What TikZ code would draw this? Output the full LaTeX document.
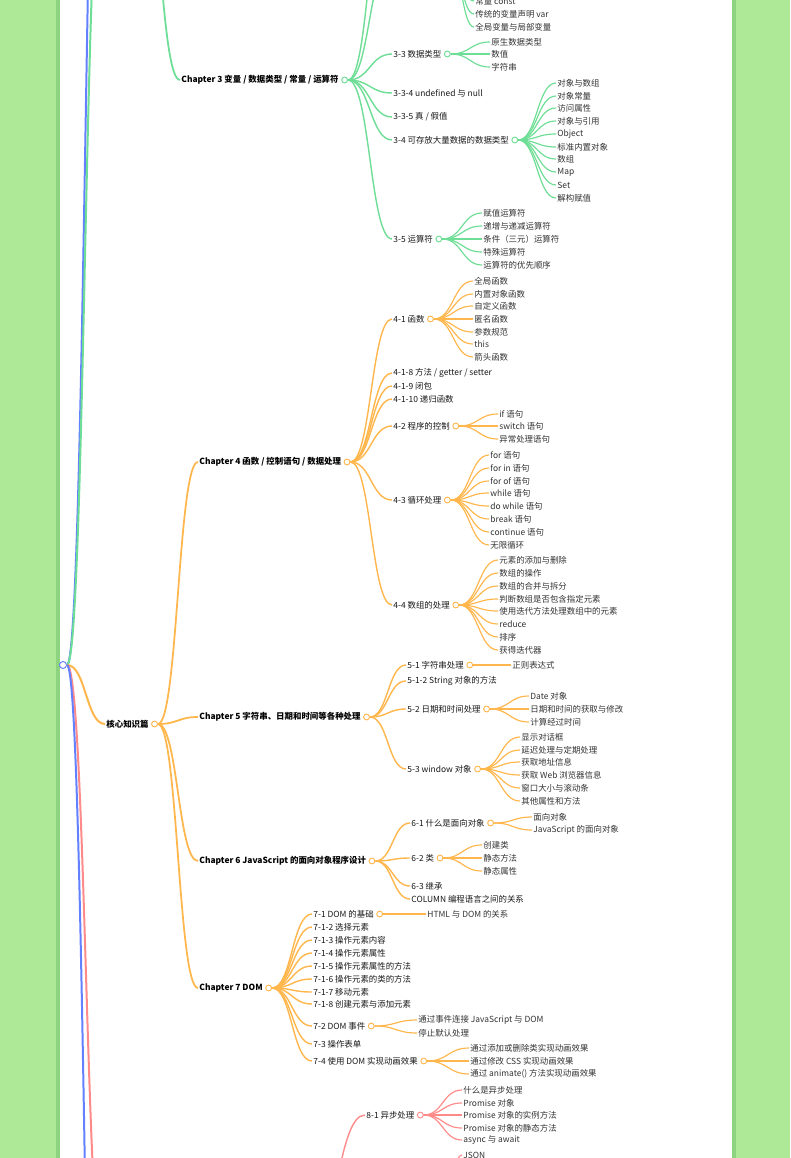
\documentclass[tikz,border=0pt]{standalone}
\usepackage{fontspec}
\setmainfont{Noto Sans CJK SC}
\usetikzlibrary{positioning,calc}

\definecolor{bggreen}{RGB}{174,233,151}
\definecolor{edgegreen}{RGB}{142,212,128}
\definecolor{mmgreen}{RGB}{110,222,150}
\definecolor{mmorange}{RGB}{255,183,77}
\definecolor{mmred}{RGB}{255,138,138}
\definecolor{mmblue}{RGB}{98,128,255}

\tikzset{
  leaf/.style={anchor=west, inner sep=1pt, text=black!80, font=\fontsize{7.2}{8}\selectfont},
  sub/.style={leaf, text=black!90},
  chap/.style={anchor=west, inner sep=1pt, text=black, font=\fontsize{7.2}{8}\selectfont\bfseries},
  knob/.style={circle, draw=#1, fill=white, line width=0.8pt, minimum size=5pt, inner sep=0pt},
  branch/.style={to path={let \p1=(\tikztostart), \p2=(\tikztotarget) in
      .. controls ({(\x1+\x2)/2},\y1) and ({(\x1+\x2)/2},\y2) .. (\tikztotarget)}},
  leafline/.style={line width=1pt, #1},
  subline/.style={line width=1.2pt, #1},
  chapline/.style={line width=1.5pt, #1},
  rootline/.style={line width=1.7pt, #1},
}

\begin{document}
\begin{tikzpicture}[x=0.03cm,y=-0.03cm]
\useasboundingbox (0,0) rectangle (790,1158);
\clip (0,0) rectangle (790,1158);
\fill[bggreen] (0,0) rectangle (790,1158);
\fill[edgegreen] (56,0) rectangle (60,1158);
\fill[edgegreen] (732,0) rectangle (736,1158);
\fill[white] (60,0) rectangle (732,1158);

% root and the parts that lie outside the picture
\node[knob=mmblue, minimum size=6pt] (root) at (63,665) {};
\coordinate (intro) at (105,-460);
\coordinate (basic) at (103,-150);
\coordinate (kbasic) at (140,-150);
\coordinate (apply) at (105,1284);
\coordinate (extra) at (105,1803);
\node[chap] (core) at (105,724) {核心知识篇};
\node[knob=mmorange, right=1pt of core] (kcore) {};
\draw[rootline=mmblue] (root.east) to[branch] (intro);
\draw[rootline=mmgreen] (root.east) to[branch] (basic);
\draw[rootline=mmorange] (root.east) to[branch] (core.west);
\draw[rootline=mmred] (root.east) to[branch] (apply);
\draw[rootline=mmblue] (root.east) to[branch] (extra);

% Chapter 3
\node[chap] (ch3) at (180,80) {Chapter 3 变量 / 数据类型 / 常量 / 运算符};
\node[knob=mmgreen, right=1pt of ch3] (k3) {};
\coordinate (s31) at (391,-130);
\coordinate (s32) at (391,-40);
\coordinate (k32) at (449,-40);
\node[sub] (s33) at (392,54) {3-3 数据类型};
\node[knob=mmgreen, right=1pt of s33] (k33) {};
\node[sub] (s334) at (392,93) {3-3-4 undefined 与 null};
\node[sub] (s335) at (392,117) {3-3-5 真 / 假值};
\node[sub] (s34) at (392,140) {3-4 可存放大量数据的数据类型};
\node[knob=mmgreen, right=1pt of s34] (k34) {};
\node[sub] (s35) at (392,239) {3-5 运算符};
\node[knob=mmgreen, right=1pt of s35] (k35) {};
\draw[chapline=mmgreen] (kbasic) to[branch] (ch3.west);
\foreach \s in {s31,s32,s33.west,s334.west,s335.west,s34.west,s35.west}
  \draw[subline=mmgreen] (k3.east) to[branch] (\s);
\foreach \yy/\txt [count=\i] in {1/常量 const, 14/传统的变量声明 var, 27/全局变量与局部变量}{
  \node[leaf] (l32-\i) at (474,\yy) {\txt};
  \draw[leafline=mmgreen] (k32) to[branch] (l32-\i.west);
}
\foreach \yy/\txt [count=\i] in {42/原生数据类型, 54/数值, 67/字符串}{
  \node[leaf] (l33-\i) at (490,\yy) {\txt};
  \draw[leafline=mmgreen] (k33.east) to[branch] (l33-\i.west);
}
\foreach \yy/\txt [count=\i] in {83/对象与数组, 96/对象常量, 108/访问属性, 121/对象与引用,
    134/Object, 147/标准内置对象, 159/数组, 172/Map, 185/Set, 198/解构赋值}{
  \node[leaf] (l34-\i) at (556,\yy) {\txt};
  \draw[leafline=mmgreen] (k34.east) to[branch] (l34-\i.west);
}
\foreach \yy/\txt [count=\i] in {213/赋值运算符, 226/递增与递减运算符, 239/条件（三元）运算符,
    252/特殊运算符, 265/运算符的优先顺序}{
  \node[leaf] (l35-\i) at (482,\yy) {\txt};
  \draw[leafline=mmgreen] (k35.east) to[branch] (l35-\i.west);
}

% Chapter 4
\node[chap] (ch4) at (198,462) {Chapter 4 函数 / 控制语句 / 数据处理};
\node[knob=mmorange, right=1pt of ch4] (k4) {};
\node[sub] (s41) at (392,319) {4-1 函数};
\node[knob=mmorange, right=1pt of s41] (k41) {};
\node[sub] (s418) at (392,373) {4-1-8 方法 / getter / setter};
\node[sub] (s419) at (392,386) {4-1-9 闭包};
\node[sub] (s4110) at (392,399) {4-1-10 递归函数};
\node[sub] (s42) at (392,426) {4-2 程序的控制};
\node[knob=mmorange, right=1pt of s42] (k42) {};
\node[sub] (s43) at (392,500) {4-3 循环处理};
\node[knob=mmorange, right=1pt of s43] (k43) {};
\node[sub] (s44) at (392,605) {4-4 数组的处理};
\node[knob=mmorange, right=1pt of s44] (k44) {};
\foreach \s in {s41,s418,s419,s4110,s42,s43,s44}
  \draw[subline=mmorange] (k4.east) to[branch] (\s.west);
\foreach \yy/\txt [count=\i] in {281/全局函数, 294/内置对象函数, 306/自定义函数, 319/匿名函数,
    332/参数规范, 344/this, 357/箭头函数}{
  \node[leaf] (l41-\i) at (473,\yy) {\txt};
  \draw[leafline=mmorange] (k41.east) to[branch] (l41-\i.west);
}
\foreach \yy/\txt [count=\i] in {414/if 语句, 426/switch 语句, 439/异常处理语句}{
  \node[leaf] (l42-\i) at (498,\yy) {\txt};
  \draw[leafline=mmorange] (k42.east) to[branch] (l42-\i.west);
}
\foreach \yy/\txt [count=\i] in {455/for 语句, 468/for in 语句, 481/for of 语句, 493/while 语句,
    506/do while 语句, 519/break 语句, 532/continue 语句, 545/无限循环}{
  \node[leaf] (l43-\i) at (489,\yy) {\txt};
  \draw[leafline=mmorange] (k43.east) to[branch] (l43-\i.west);
}
\foreach \yy/\txt [count=\i] in {560/元素的添加与删除, 573/数组的操作, 586/数组的合并与拆分,
    599/判断数组是否包含指定元素, 611/使用迭代方法处理数组中的元素, 624/reduce, 637/排序, 650/获得迭代器}{
  \node[leaf] (l44-\i) at (498,\yy) {\txt};
  \draw[leafline=mmorange] (k44.east) to[branch] (l44-\i.west);
}

% Chapter 5
\node[chap] (ch5) at (198,717) {Chapter 5 字符串、日期和时间等各种处理};
\node[knob=mmorange, right=1pt of ch5] (k5) {};
\node[sub] (s51) at (406,665) {5-1 字符串处理};
\node[knob=mmorange, right=1pt of s51] (k51) {};
\node[sub] (s512) at (406,681) {5-1-2 String 对象的方法};
\node[sub] (s52) at (406,709) {5-2 日期和时间处理};
\node[knob=mmorange, right=1pt of s52] (k52) {};
\node[sub] (s53) at (406,769) {5-3 window 对象};
\node[knob=mmorange, right=1pt of s53] (k53) {};
\foreach \s in {s51,s512,s52,s53}
  \draw[subline=mmorange] (k5.east) to[branch] (\s.west);
\node[leaf] (l51-1) at (511,665) {正则表达式};
\draw[leafline=mmorange] (k51.east) -- (l51-1.west);
\foreach \yy/\txt [count=\i] in {696/Date 对象, 709/日期和时间的获取与修改, 722/计算经过时间}{
  \node[leaf] (l52-\i) at (529,\yy) {\txt};
  \draw[leafline=mmorange] (k52.east) to[branch] (l52-\i.west);
}
\foreach \yy/\txt [count=\i] in {737/显示对话框, 750/延迟处理与定期处理, 762/获取地址信息,
    775/获取 Web 浏览器信息, 788/窗口大小与滚动条, 801/其他属性和方法}{
  \node[leaf] (l53-\i) at (520,\yy) {\txt};
  \draw[leafline=mmorange] (k53.east) to[branch] (l53-\i.west);
}

% Chapter 6
\node[chap] (ch6) at (198,861) {Chapter 6 JavaScript 的面向对象程序设计};
\node[knob=mmorange, right=1pt of ch6] (k6) {};
\node[sub] (s61) at (410,823) {6-1 什么是面向对象};
\node[knob=mmorange, right=1pt of s61] (k61) {};
\node[sub] (s62) at (410,858) {6-2 类};
\node[knob=mmorange, right=1pt of s62] (k62) {};
\node[sub] (s63) at (410,886) {6-3 继承};
\node[sub] (s6c) at (410,899) {COLUMN 编程语言之间的关系};
\foreach \s in {s61,s62,s63,s6c}
  \draw[subline=mmorange] (k6.east) to[branch] (\s.west);
\foreach \yy/\txt [count=\i] in {817/面向对象, 830/JavaScript 的面向对象}{
  \node[leaf] (l61-\i) at (532,\yy) {\txt};
  \draw[leafline=mmorange] (k61.east) to[branch] (l61-\i.west);
}
\foreach \yy/\txt [count=\i] in {845/创建类, 858/静态方法, 871/静态属性}{
  \node[leaf] (l62-\i) at (482,\yy) {\txt};
  \draw[leafline=mmorange] (k62.east) to[branch] (l62-\i.west);
}

% Chapter 7
\node[chap] (ch7) at (198,988) {Chapter 7 DOM};
\node[knob=mmorange, right=1pt of ch7] (k7) {};
\node[sub] (s71) at (312,914) {7-1 DOM 的基础};
\node[knob=mmorange, right=1pt of s71] (k71) {};
\foreach \yy/\txt [count=\i from 2] in {927/7-1-2 选择元素, 940/7-1-3 操作元素内容, 953/7-1-4 操作元素属性,
    966/7-1-5 操作元素属性的方法, 979/7-1-6 操作元素的类的方法, 992/7-1-7 移动元素, 1004/7-1-8 创建元素与添加元素}
  \node[sub] (s71\i) at (312,\yy) {\txt};
\node[sub] (s72) at (312,1026) {7-2 DOM 事件};
\node[knob=mmorange, right=1pt of s72] (k72) {};
\node[sub] (s73) at (312,1044) {7-3 操作表单};
\node[sub] (s74) at (312,1061) {7-4 使用 DOM 实现动画效果};
\node[knob=mmorange, right=1pt of s74] (k74) {};
\foreach \s in {s71,s712,s713,s714,s715,s716,s717,s718,s72,s73,s74}
  \draw[subline=mmorange] (k7.east) to[branch] (\s.west);
\node[leaf] (l71-1) at (426,914) {HTML 与 DOM 的关系};
\draw[leafline=mmorange] (k71.east) -- (l71-1.west);
\foreach \yy/\txt [count=\i] in {1020/通过事件连接 JavaScript 与 DOM, 1033/停止默认处理}{
  \node[leaf] (l72-\i) at (417,\yy) {\txt};
  \draw[leafline=mmorange] (k72.east) to[branch] (l72-\i.west);
}
\foreach \yy/\txt [count=\i] in {1048/通过添加或删除类实现动画效果, 1061/通过修改 CSS 实现动画效果,
    1074/通过 animate() 方法实现动画效果}{
  \node[leaf] (l74-\i) at (469,\yy) {\txt};
  \draw[leafline=mmorange] (k74.east) to[branch] (l74-\i.west);
}
\foreach \c in {ch4,ch5,ch6,ch7}
  \draw[chapline=mmorange] (kcore.east) to[branch] (\c.west);

% Chapter 8 (only its top shows)
\coordinate (k8) at (310,1240);
\coordinate (k82) at (447,1185);
\node[sub] (s81) at (365,1115) {8-1 异步处理};
\node[knob=mmred, right=1pt of s81] (k81) {};
\draw[subline=mmred] (k8) to[branch] (s81.west);
\foreach \yy/\txt [count=\i] in {1090/什么是异步处理, 1103/Promise 对象, 1115/Promise 对象的实例方法,
    1128/Promise 对象的静态方法, 1140/async 与 await}{
  \node[leaf] (l81-\i) at (462,\yy) {\txt};
  \draw[leafline=mmred] (k81.east) to[branch] (l81-\i.west);
}
\node[leaf] (l82-1) at (462,1155) {JSON};
\draw[leafline=mmred] (k82) to[branch] (l82-1.west);
\end{tikzpicture}
\end{document}
